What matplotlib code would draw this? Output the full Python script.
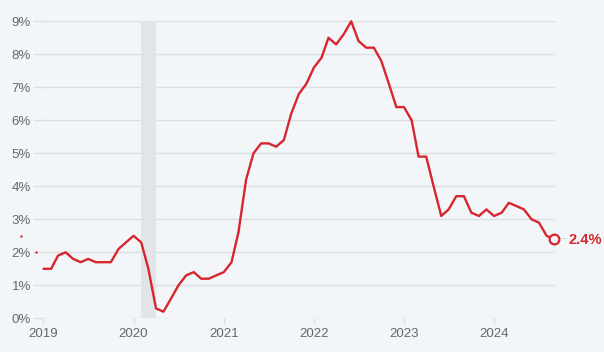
import matplotlib
matplotlib.use("Agg")
import matplotlib.pyplot as plt
import matplotlib.dates as mdates
import numpy as np
import datetime as dt

plt.rcParams['font.family'] = ['Liberation Sans', 'DejaVu Sans']

# Monthly inflation rate (%), Jan 2019 - Sep 2024
start_year, start_month = 2019, 1
values = [1.5, 1.5, 1.9, 2.0, 1.8, 1.7, 1.8, 1.7, 1.7, 1.7, 2.1, 2.3,   # 2019
          2.5, 2.3, 1.5, 0.3, 0.2, 0.6, 1.0, 1.3, 1.4, 1.2, 1.2, 1.3,   # 2020
          1.4, 1.7, 2.6, 4.2, 5.0, 5.3, 5.3, 5.2, 5.4, 6.2, 6.8, 7.1,   # 2021
          7.6, 7.9, 8.5, 8.3, 8.6, 9.0, 8.4, 8.2, 8.2, 7.8, 7.1, 6.4,   # 2022
          6.4, 6.0, 4.9, 4.9, 4.0, 3.1, 3.3, 3.7, 3.7, 3.2, 3.1, 3.3,   # 2023
          3.1, 3.2, 3.5, 3.4, 3.3, 3.0, 2.9, 2.5, 2.4]                  # 2024
# stray earlier points (Oct 2018, Dec 2018)
stray_dates = ["2018-10-01", "2018-12-01"]
stray_values = [2.5, 2.0]
recession = ("2020-02-01", "2020-04-01")
year_ticks = [2019, 2020, 2021, 2022, 2023, 2024]
y_ticks = [0, 1, 2, 3, 4, 5, 6, 7, 8, 9]
end_label = "2.4%"

def month_date(i):
    y = start_year + (start_month - 1 + i) // 12
    m = (start_month - 1 + i) % 12 + 1
    return dt.date(y, m, 1)

dates = [month_date(i) for i in range(len(values))]

RED = "#d7262e"
BG = "#f3f6f9"
GRID = "#dcdee0"
TXT = "#666666"

fig = plt.figure(figsize=(6.04, 3.52), dpi=100, facecolor=BG)
ax = fig.add_axes([43.5/604, 1-318.3/352, (555-43.5)/604, (318.3-21.3)/352])
ax.set_facecolor(BG)

ax.axvspan(mdates.datestr2num(recession[0]), mdates.datestr2num(recession[1]),
           color="#e2e5e8", zorder=1, lw=0)

for v in y_ticks:
    ax.axhline(v, color=GRID, lw=1, zorder=0)

ax.plot(dates, values, color=RED, lw=1.7, solid_joinstyle='round',
        solid_capstyle='round', zorder=3, clip_on=False)
ax.scatter([mdates.datestr2num(d) for d in stray_dates], stray_values, s=3,
           color=RED, zorder=3, clip_on=False, lw=0)

# end marker
ax.plot([dates[-1]], [values[-1]], marker='o', ms=7, mfc=BG, mec=RED, mew=1.6,
        zorder=4, clip_on=False)
ax.annotate("", xy=(dates[-1], values[-1]), xytext=(7, 0), textcoords='offset points')
ax.annotate("–", xy=(dates[-1], values[-1]), xytext=(5.5, 0), textcoords='offset points',
            va='center', ha='left', color="#aaaaaa", fontsize=6)
ax.annotate(end_label, xy=(dates[-1], values[-1]), xytext=(10.5, -0.5),
            textcoords='offset points', va='center', ha='left', color=RED,
            fontsize=10.5, fontweight='bold')

ax.set_xlim(mdates.date2num(dates[0]), mdates.date2num(dates[-1]) + 3)
ax.set_ylim(0, 9)

ax.set_yticks(y_ticks)
ax.set_yticklabels([f"{v}%" for v in y_ticks])
ax.set_xticks([mdates.date2num(dt.date(y, 1, 1)) for y in year_ticks])
ax.set_xticklabels([str(y) for y in year_ticks])

ax.tick_params(axis='y', length=7, color=GRID, width=1, pad=2, labelsize=9.5, labelcolor=TXT)
ax.tick_params(axis='x', length=4, color=GRID, width=1, pad=3, labelsize=9.5, labelcolor=TXT)
for s in ax.spines.values():
    s.set_visible(False)

fig.savefig("out.png", dpi=100, facecolor=BG)
